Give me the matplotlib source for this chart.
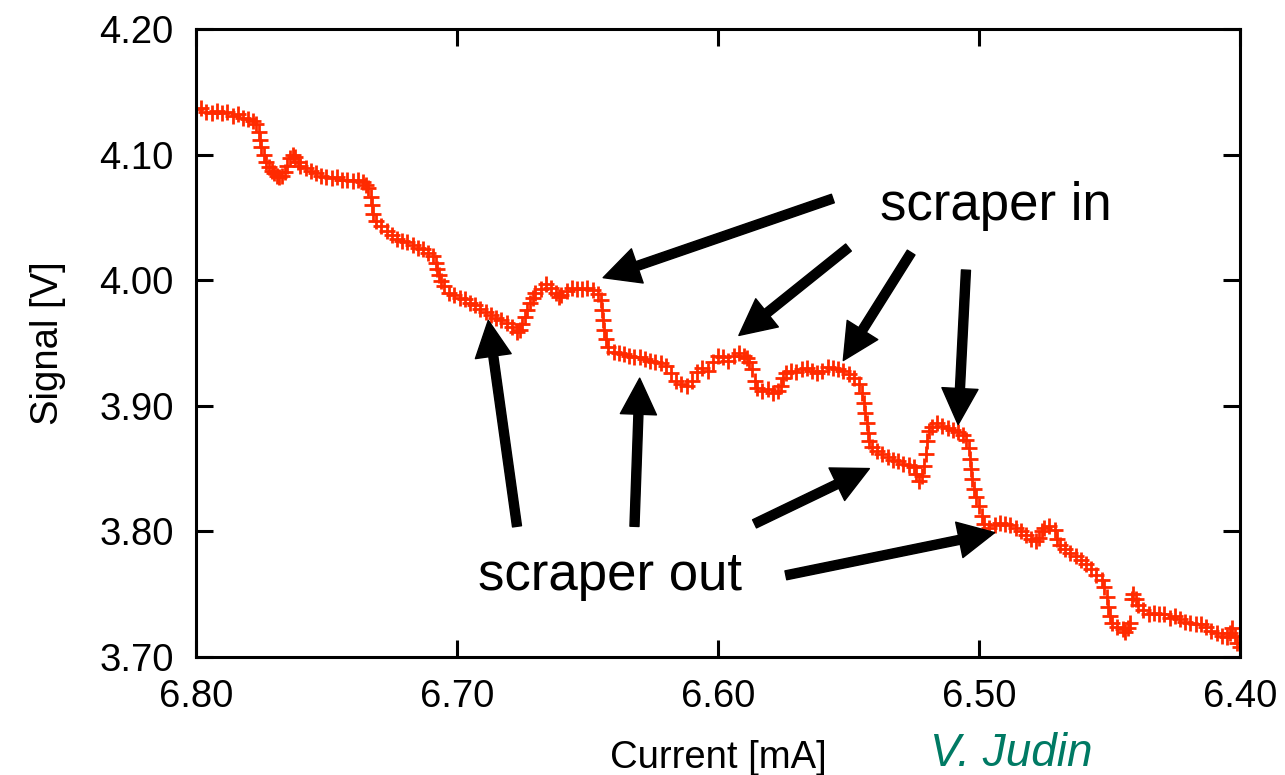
import matplotlib
matplotlib.use("Agg")
import matplotlib.pyplot as plt
import numpy as np

plt.rcParams['font.family'] = ['Liberation Sans', 'DejaVu Sans']

current = [
    6.800, 6.798, 6.796, 6.794, 6.792, 6.790, 6.788, 6.786, 6.784, 6.782,
    6.780, 6.778, 6.777, 6.776, 6.7755, 6.775, 6.774, 6.773, 6.772, 6.771,
    6.770, 6.769, 6.768, 6.767, 6.766, 6.765, 6.764, 6.763, 6.762, 6.761,
    6.760, 6.758, 6.756, 6.754, 6.752, 6.750, 6.748, 6.746, 6.744, 6.742,
    6.740, 6.738, 6.736, 6.735, 6.734, 6.733, 6.7325, 6.732, 6.731, 6.729,
    6.727, 6.725, 6.723, 6.721, 6.719, 6.717, 6.715, 6.713, 6.711, 6.709,
    6.708, 6.7075, 6.707, 6.706, 6.705, 6.703, 6.701, 6.699, 6.697, 6.695,
    6.693, 6.691, 6.689, 6.687, 6.685, 6.683, 6.681, 6.679, 6.677, 6.676,
    6.675, 6.674, 6.673, 6.672, 6.671, 6.670, 6.668, 6.666, 6.664, 6.662,
    6.661, 6.660, 6.658, 6.656, 6.654, 6.652, 6.650, 6.648, 6.646, 6.645,
    6.6445, 6.644, 6.6435, 6.643, 6.642, 6.640, 6.638, 6.636, 6.634, 6.632,
    6.630, 6.628, 6.626, 6.624, 6.622, 6.620, 6.618, 6.616, 6.614, 6.612,
    6.610, 6.608, 6.606, 6.604, 6.602, 6.600, 6.598, 6.596, 6.594, 6.592,
    6.590, 6.589, 6.588, 6.587, 6.586, 6.585, 6.583, 6.581, 6.579, 6.577,
    6.576, 6.575, 6.574, 6.572, 6.570, 6.568, 6.566, 6.564, 6.562, 6.560,
    6.558, 6.556, 6.554, 6.552, 6.550, 6.548, 6.546, 6.545, 6.544, 6.5435,
    6.543, 6.5425, 6.542, 6.541, 6.539, 6.537, 6.535, 6.533, 6.531, 6.529,
    6.527, 6.525, 6.524, 6.523, 6.522, 6.521, 6.5205, 6.520, 6.519, 6.518,
    6.516, 6.514, 6.512, 6.510, 6.508, 6.506, 6.505, 6.504, 6.5035, 6.503,
    6.5025, 6.502, 6.501, 6.500, 6.499, 6.498, 6.496, 6.494, 6.492, 6.490,
    6.488, 6.486, 6.484, 6.482, 6.480, 6.478, 6.477, 6.476, 6.475, 6.473,
    6.471, 6.470, 6.469, 6.467, 6.465, 6.463, 6.461, 6.459, 6.457, 6.455,
    6.453, 6.452, 6.451, 6.4505, 6.450, 6.449, 6.447, 6.445, 6.444, 6.443,
    6.442, 6.4415, 6.441, 6.440, 6.439, 6.437, 6.435, 6.433, 6.431, 6.429,
    6.427, 6.425, 6.423, 6.421, 6.419, 6.417, 6.415, 6.413, 6.411, 6.409,
    6.407, 6.405, 6.404, 6.403, 6.402, 6.401, 6.400,
]
signal = [
    4.136, 4.137, 4.134, 4.133, 4.135, 4.133, 4.134, 4.131, 4.132, 4.129,
    4.128, 4.127, 4.124, 4.118, 4.112, 4.106, 4.100, 4.094, 4.090, 4.087,
    4.085, 4.083, 4.082, 4.083, 4.086, 4.091, 4.097, 4.100, 4.098, 4.094,
    4.091, 4.089, 4.087, 4.085, 4.083, 4.082, 4.081, 4.082, 4.080, 4.080,
    4.079, 4.080, 4.078, 4.076, 4.073, 4.066, 4.060, 4.053, 4.047, 4.043,
    4.039, 4.036, 4.033, 4.031, 4.030, 4.028, 4.026, 4.025, 4.022, 4.019,
    4.014, 4.009, 4.004, 3.999, 3.995, 3.990, 3.988, 3.986, 3.985, 3.982,
    3.980, 3.977, 3.975, 3.972, 3.970, 3.968, 3.966, 3.963, 3.959, 3.960,
    3.965, 3.971, 3.976, 3.982, 3.986, 3.990, 3.993, 3.997, 3.994, 3.990,
    3.987, 3.988, 3.991, 3.994, 3.993, 3.993, 3.994, 3.992, 3.989, 3.984,
    3.976, 3.968, 3.960, 3.953, 3.947, 3.943, 3.942, 3.941, 3.940, 3.939,
    3.939, 3.937, 3.936, 3.935, 3.934, 3.932, 3.926, 3.920, 3.917, 3.916,
    3.920, 3.927, 3.930, 3.928, 3.935, 3.940, 3.939, 3.936, 3.940, 3.942,
    3.940, 3.938, 3.935, 3.929, 3.920, 3.914, 3.912, 3.913, 3.910, 3.912,
    3.916, 3.922, 3.926, 3.928, 3.927, 3.929, 3.930, 3.928, 3.926, 3.928,
    3.931, 3.930, 3.929, 3.928, 3.925, 3.922, 3.917, 3.910, 3.902, 3.894,
    3.886, 3.878, 3.872, 3.867, 3.864, 3.862, 3.859, 3.857, 3.856, 3.854,
    3.853, 3.851, 3.846, 3.840, 3.844, 3.852, 3.862, 3.872, 3.880, 3.883,
    3.886, 3.884, 3.882, 3.881, 3.879, 3.877, 3.873, 3.866, 3.858, 3.850,
    3.842, 3.834, 3.827, 3.820, 3.812, 3.806, 3.803, 3.805, 3.807, 3.806,
    3.805, 3.803, 3.800, 3.797, 3.794, 3.792, 3.795, 3.800, 3.803, 3.804,
    3.801, 3.794, 3.789, 3.786, 3.783, 3.780, 3.777, 3.774, 3.770, 3.765,
    3.761, 3.756, 3.748, 3.740, 3.733, 3.727, 3.724, 3.722, 3.720, 3.723,
    3.727, 3.746, 3.750, 3.746, 3.741, 3.737, 3.734, 3.735, 3.734, 3.734,
    3.731, 3.733, 3.730, 3.728, 3.727, 3.726, 3.726, 3.724, 3.721, 3.719,
    3.717, 3.716, 3.719, 3.723, 3.717, 3.711, 3.708,
]

# arrows: (tail x, tail y, head x, head y) in data units
arrows_in = [
    (6.556, 4.065, 6.644, 4.002),
    (6.550, 4.026, 6.592, 3.956),
    (6.526, 4.022, 6.552, 3.936),
    (6.505, 4.008, 6.508, 3.885),
]
arrows_out = [
    (6.677, 3.804, 6.688, 3.968),
    (6.632, 3.804, 6.630, 3.922),
    (6.586, 3.806, 6.542, 3.850),
    (6.574, 3.765, 6.494, 3.799),
]

fig = plt.figure(figsize=(12.85, 7.75), dpi=100)
ax = fig.add_axes([0.1525, 0.1523, 0.8125, 0.8103])

ax.plot(current, signal, linestyle='none', marker='+', color='#ff2a00',
        markersize=12, markeredgewidth=2.0)

ax.set_xlim(6.80, 6.40)
ax.set_ylim(3.70, 4.20)
ax.set_xticks(np.arange(6.40, 6.801, 0.10))
ax.set_yticks(np.arange(3.70, 4.201, 0.10))
ax.xaxis.set_major_formatter(matplotlib.ticker.FormatStrFormatter('%.2f'))
ax.yaxis.set_major_formatter(matplotlib.ticker.FormatStrFormatter('%.2f'))
ax.tick_params(direction='in', length=12, width=2.2, labelsize=27.5,
               top=True, right=True, pad=16)
for s in ax.spines.values():
    s.set_linewidth(2.2)

ax.set_xlabel('Current [mA]', fontsize=27.5, labelpad=18)
ax.set_ylabel('Signal [V]', fontsize=27.5, labelpad=24)

props = dict(facecolor='black', edgecolor='black', width=6.5, headwidth=26,
             headlength=26, shrink=0)
for x0, y0, x1, y1 in arrows_in + arrows_out:
    ax.annotate('', xy=(x1, y1), xytext=(x0, y0), arrowprops=props)

ax.text(6.538, 4.048, 'scraper in', fontsize=38, va='baseline', ha='left')
ax.text(6.692, 3.7533, 'scraper out', fontsize=38, va='baseline', ha='left')

fig.text(0.787, 0.027, 'V. Judin', fontsize=33, style='italic',
         color='#007a64', ha='center', va='center')

fig.savefig('out.png', dpi=100)
